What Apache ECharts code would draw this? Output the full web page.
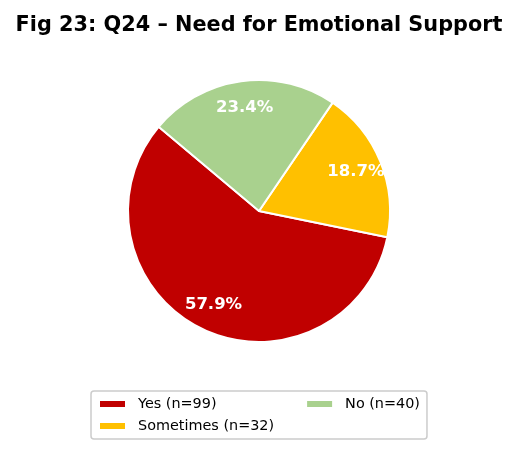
<!DOCTYPE html>
<html><head><meta charset="utf-8">
<script src="https://cdn.jsdelivr.net/npm/echarts@6/dist/echarts.min.js"></script>
<style>html,body{margin:0;padding:0;background:#fff}#c{width:518px;height:455px}</style>
</head><body><div id="c"></div>
<script>
const categories = ['Yes (n=99)', 'Sometimes (n=32)', 'No (n=40)'];
const counts = [99, 32, 40];
const colors = ['#c00000', '#ffc000', '#a9d18e'];

const total = counts.reduce((a, b) => a + b, 0);
const data = categories.map((c, i) => ({ name: c, value: counts[i], itemStyle: { color: colors[i] } }));
const chart = echarts.init(document.getElementById('c'), null, { renderer: 'canvas' });
const center = [259, 211];
const R = 131;
chart.setOption({
  animation: false,
  title: {
    text: 'Fig 23: Q24 – Need for Emotional Support',
    left: 'center', top: 10,
    textStyle: { fontFamily: 'DejaVu Sans', fontWeight: 'bold', fontSize: 20.8, color: '#000' }
  },
  legend: {
    data: categories.map((c, i) => i === 1
      ? { name: c, textStyle: { padding: [0, 25, 0, 7] } }
      : { name: c }),
    orient: 'vertical',
    left: 91, top: 391,
    height: 40,
    padding: [5, 7, 5, 7],
    itemWidth: 27, itemHeight: 8,
    itemGap: 6,
    icon: 'rect',
    borderColor: '#cccccc', borderWidth: 1.5, borderRadius: 3,
    textStyle: { fontFamily: 'DejaVu Sans', fontSize: 14.4, lineHeight: 16, color: '#000', padding: [0, 0, 0, 7] }
  },
  series: [
    {
      type: 'pie', center: center, radius: [0, R],
      startAngle: 140, clockwise: false,
      data: data,
      label: { show: false }, labelLine: { show: false },
      itemStyle: { borderColor: '#fff', borderWidth: 2 },
      silent: true
    },
    {
      type: 'pie', center: center, radius: [R * 0.55, R],
      startAngle: 140, clockwise: false,
      data: categories.map((c, i) => ({ name: c + ' ', value: counts[i], itemStyle: { color: 'rgba(0,0,0,0)' } })),
      legendHoverLink: false,
      label: {
        show: true, position: 'inside',
        formatter: p => (p.value / total * 100).toFixed(1) + '%',
        fontFamily: 'DejaVu Sans', fontWeight: 'bold', fontSize: 16.5, color: '#fff'
      },
      labelLine: { show: false },
      silent: true
    }
  ]
});
</script></body></html>
